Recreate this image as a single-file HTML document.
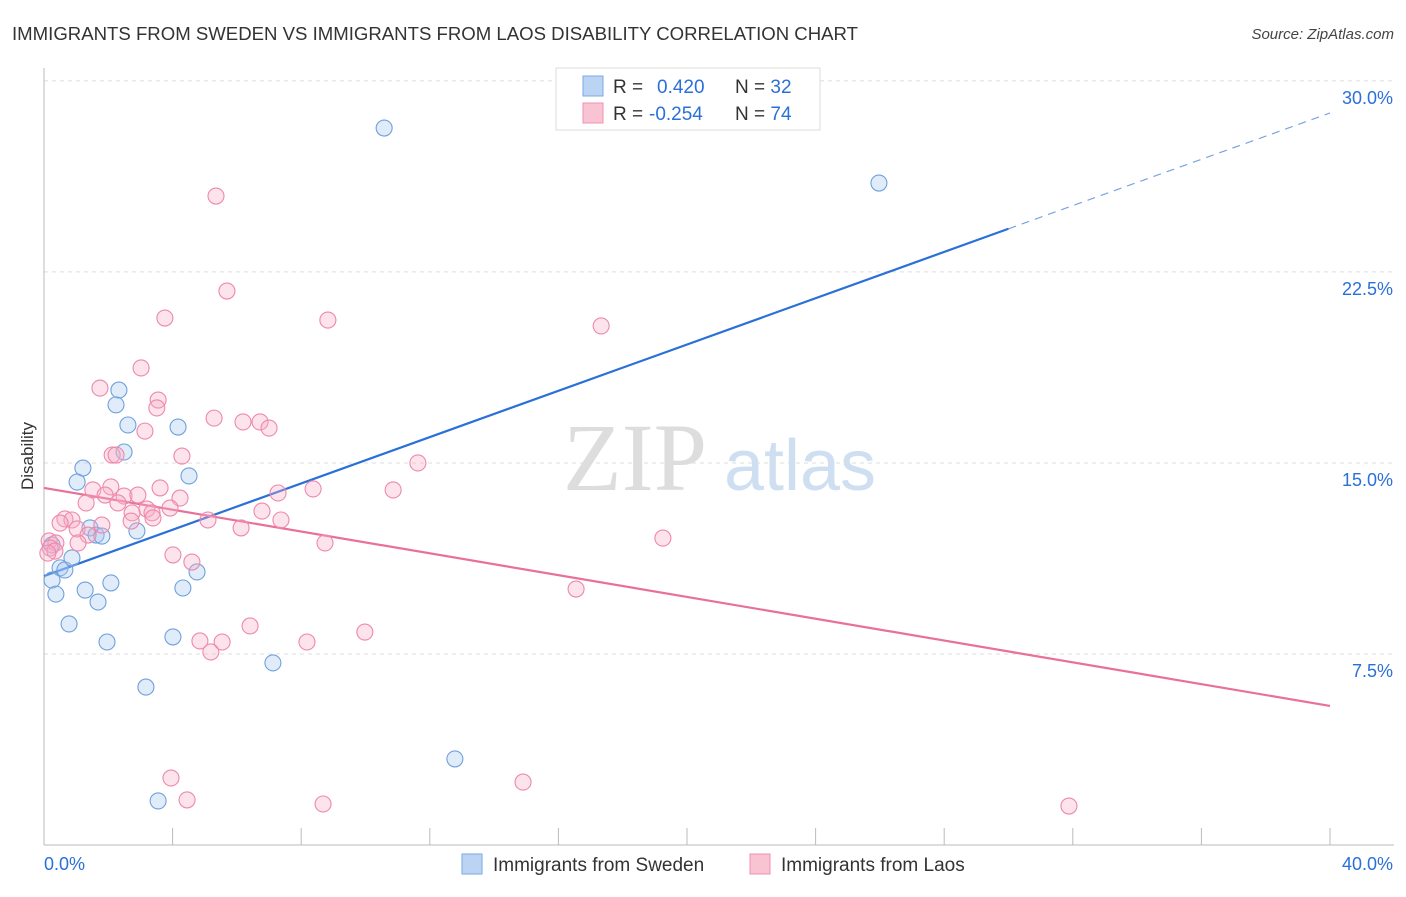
<!DOCTYPE html>
<html><head><meta charset="utf-8"><style>
body{margin:0;background:#fff;font-family:"Liberation Sans",sans-serif;}
</style></head><body>
<svg id="chart" width="1406" height="892" xmlns="http://www.w3.org/2000/svg" font-family="Liberation Sans, sans-serif">
<text x="12" y="40" font-size="18.6" fill="#333" textLength="846">IMMIGRANTS FROM SWEDEN VS IMMIGRANTS FROM LAOS DISABILITY CORRELATION CHART</text>
<text x="1394" y="39" font-size="15" fill="#444" font-style="italic" text-anchor="end">Source: ZipAtlas.com</text>
<g>
<text x="635" y="490" font-size="96" fill="#ddd" font-family="Liberation Serif, serif" text-anchor="middle">ZIP</text>
<text x="800" y="490" font-size="72" fill="#cfdff2" text-anchor="middle">atlas</text>
</g>
<g id="grid"></g>
<g id="axes"></g>
<g id="lines"></g>
<g id="points"></g>
<g>
<rect x="556" y="68" width="264" height="62" fill="#fff" stroke="#ddd"/>
<rect x="583" y="76" width="20" height="20" fill="#bcd4f4" stroke="#7aaae0"/>
<text x="613" y="93" font-size="19" fill="#333">R = <tspan x="657" fill="#2a70d8">0.420</tspan><tspan x="735">N = </tspan><tspan fill="#2a70d8">32</tspan></text>
<rect x="583" y="103" width="20" height="20" fill="#f8c4d4" stroke="#f090b0"/>
<text x="613" y="120" font-size="19" fill="#333">R = <tspan x="649" fill="#2a70d8">-0.254</tspan><tspan x="735">N = </tspan><tspan fill="#2a70d8">74</tspan></text>
</g>
<g>
<rect x="462" y="854" width="20" height="20" fill="#bcd4f4" stroke="#7aaae0"/>
<text x="493" y="871" font-size="19" fill="#333">Immigrants from Sweden</text>
<rect x="750" y="854" width="20" height="20" fill="#f8c4d4" stroke="#f090b0"/>
<text x="781" y="871" font-size="19" fill="#333">Immigrants from Laos</text>
</g>
<text transform="translate(33,456) rotate(-90)" font-size="17" fill="#333" text-anchor="middle">Disability</text>
</svg>
<script>
const yTicks=[7.5,15,22.5,30];
const yTickLabels=["7.5%","15.0%","22.5%","30.0%"];
const xTickValues=[0,4,8,12,16,20,24,28,32,36,40];
const swedenX=[10.58,25.97,2.33,2.24,2.61,4.17,2.49,1.21,4.51,1.03,1.43,1.62,1.80,2.89,0.25,0.50,0.65,0.87,0.25,0.37,1.28,1.68,2.08,4.76,4.32,0.78,1.96,4.01,7.12,3.17,12.78,3.55];
const swedenY=[28.15,25.99,17.86,17.28,16.49,16.41,15.43,14.80,14.49,14.25,12.45,12.17,12.13,12.33,11.78,10.88,10.80,11.27,10.40,9.85,10.01,9.54,10.29,10.72,10.09,8.68,7.97,8.17,7.15,6.20,3.38,1.73];
const laosX=[5.35,5.69,3.76,8.83,17.33,3.02,1.74,3.55,3.51,5.29,6.19,6.72,7.00,3.14,2.12,2.24,4.29,11.63,1.52,2.08,3.61,8.37,10.86,7.28,1.90,2.49,2.92,4.23,1.31,2.30,3.20,3.92,6.78,2.74,3.36,0.65,0.87,0.50,2.71,5.10,7.37,3.39,1.03,1.80,6.13,1.37,19.25,8.74,0.16,0.37,1.06,0.19,0.34,0.12,4.01,4.60,16.55,6.41,4.85,5.54,8.18,9.98,5.19,3.95,14.90,4.45,8.68,31.88];
const laosY=[25.48,21.75,20.69,20.61,20.38,18.73,17.94,17.47,17.16,16.76,16.61,16.61,16.37,16.25,15.31,15.31,15.27,15.00,13.94,14.06,14.02,13.98,13.94,13.82,13.74,13.70,13.74,13.62,13.43,13.43,13.19,13.23,13.11,13.04,13.04,12.80,12.76,12.64,12.72,12.76,12.76,12.84,12.41,12.56,12.45,12.17,12.05,11.86,11.94,11.86,11.86,11.66,11.54,11.46,11.39,11.11,10.05,8.60,8.01,7.97,7.97,8.36,7.58,2.63,2.47,1.77,1.61,1.53];
const swedenTrend=[10.56,0.4545];
const laosTrend=[14.02,-0.214];
const swedenSolidEnd=30;
const NS="http://www.w3.org/2000/svg";
const X0=44,X1=1330,Y0=845,PXY=25.47;
function sx(v){return X0+(v/40)*(X1-X0);}
function sy(v){return Y0-v*PXY;}
function mk(tag,attrs,parent){const e=document.createElementNS(NS,tag);for(const k in attrs)e.setAttribute(k,attrs[k]);document.getElementById(parent).appendChild(e);return e;}
yTicks.forEach((t,i)=>{
 const g=mk('line',{x1:X0,x2:1394,y1:sy(t),y2:sy(t),stroke:'#ddd','stroke-dasharray':'4,4'},'grid');
 
 
 const l=mk('text',{x:1393,y:sy(t)+23,'font-size':18,fill:'#2a70d8','text-anchor':'end'},'grid');
 l.textContent=yTickLabels[i];
 
 
});
const ax=mk('line',{x1:X0,x2:1394,y1:Y0,y2:Y0,stroke:'#bbb'},'axes');


const ay=mk('line',{x1:X0,x2:X0,y1:68,y2:Y0,stroke:'#bbb'},'axes');


xTickValues.forEach(v=>{
 const t=mk('line',{x1:sx(v),x2:sx(v),y1:828,y2:Y0,stroke:'#bbb'},'axes');
 
 
});
const xl0=mk('text',{x:44,y:870,'font-size':18,fill:'#2a70d8'},'axes');xl0.textContent='0.0%';


const xl1=mk('text',{x:1393,y:870,'font-size':18,fill:'#2a70d8','text-anchor':'end'},'axes');xl1.textContent='40.0%';


function pts(xs,ys,fill,stroke,name){xs.forEach((x,i)=>{
 const c=mk('circle',{cx:sx(x),cy:sy(ys[i]),r:8,fill:fill,'fill-opacity':0.35,stroke:stroke,'stroke-width':1.1},'points');
 
 
});}
pts(swedenX,swedenY,'#a8c8f0','#6fa0dc','sweden-point');
pts(laosX,laosY,'#f5b0c8','#ee88aa','laos-point');
const f=(tr,x)=>tr[0]+tr[1]*x;
const b1=mk('line',{x1:sx(0),y1:sy(f(swedenTrend,0)),x2:sx(swedenSolidEnd),y2:sy(f(swedenTrend,swedenSolidEnd)),stroke:'#2a70d8','stroke-width':2.2},'lines');


const b2=mk('line',{x1:sx(swedenSolidEnd),y1:sy(f(swedenTrend,swedenSolidEnd)),x2:sx(40),y2:sy(f(swedenTrend,40)),stroke:'#7aa4e0','stroke-width':1.2,'stroke-dasharray':'8,6'},'lines');


const p1=mk('line',{x1:sx(0),y1:sy(f(laosTrend,0)),x2:sx(40),y2:sy(f(laosTrend,40)),stroke:'#e8709a','stroke-width':2.2},'lines');


</script>
</body></html>
